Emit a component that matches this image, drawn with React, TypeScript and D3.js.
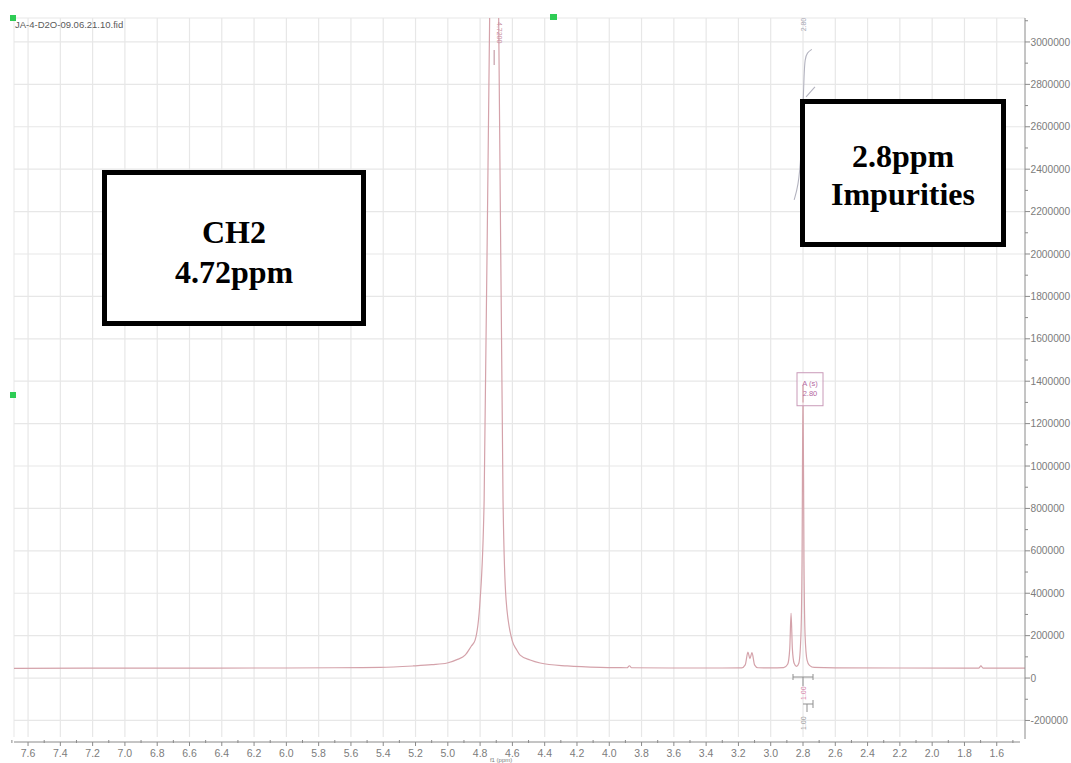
import React from "react";
import * as d3 from "d3";

const W = 1071;
const H = 763;

// ---------- data ----------
const xTickValues = [7.6, 7.4, 7.2, 7.0, 6.8, 6.6, 6.4, 6.2, 6.0, 5.8, 5.6, 5.4, 5.2, 5.0, 4.8, 4.6, 4.4, 4.2, 4.0, 3.8, 3.6, 3.4, 3.2, 3.0, 2.8, 2.6, 2.4, 2.2, 2.0, 1.8, 1.6];
const xMinorValues = [7.7, 7.5, 7.3, 7.1, 6.9, 6.7, 6.5, 6.3, 6.1, 5.9, 5.7, 5.5, 5.3, 5.1, 4.9, 4.7, 4.5, 4.3, 4.1, 3.9, 3.7, 3.5, 3.3, 3.1, 2.9, 2.7, 2.5, 2.3, 2.1, 1.9, 1.7, 1.5];
const yTickValues = [-200000, 0, 200000, 400000, 600000, 800000, 1000000, 1200000, 1400000, 1600000, 1800000, 2000000, 2200000, 2400000, 2600000, 2800000, 3000000];
const yMinorValues = [-100000, 100000, 300000, 500000, 700000, 900000, 1100000, 1300000, 1500000, 1700000, 1900000, 2100000, 2300000, 2500000, 2700000, 2900000, 3100000];

// spectrum (ppm, intensity)
const specPpm = [
  7.69, 7.2, 6.6, 6.0, 5.7, 5.42, 5.215, 5.1, 5.004, 4.94, 4.893, 4.855, 4.831, 4.8, 4.775, 4.741, 4.713, 4.685, 4.658, 4.639, 4.602, 4.575, 4.552, 4.49, 4.428, 4.261, 4.057, 3.95, 3.89, 3.875, 3.862, 3.6, 3.3, 3.18, 3.158, 3.141, 3.129, 3.116, 3.1, 3.08, 3.0, 2.92, 2.895, 2.882, 2.874, 2.866, 2.855, 2.84, 2.826, 2.813, 2.806, 2.8, 2.794, 2.787, 2.775, 2.76, 2.73, 2.6, 2.2, 1.8, 1.712, 1.698, 1.685, 1.42,
];
const specInt = [
  46000, 46500, 47000, 47500, 48500, 50000, 57000, 63000, 71000, 88000, 108000, 150000, 179000, 368000, 840000, 3110000, 4200000, 3110000, 840000, 368000, 179000, 135000, 108000, 85000, 71000, 57000, 50000, 49000, 48500, 58000, 48500, 47500, 47500, 48000, 62000, 122000, 92000, 120000, 62000, 48500, 48000, 49000, 65000, 140000, 305000, 140000, 70000, 55000, 70000, 200000, 550000, 1380000, 550000, 200000, 85000, 60000, 50000, 48000, 47500, 47000, 47000, 57000, 47000, 46500,
];

// integral trace over the 2.8 ppm region
const integPpm = [2.855, 2.83, 2.812, 2.8, 2.793, 2.788, 2.775, 2.745];
const integVal = [2255000, 2320000, 2450000, 2700000, 2850000, 2920000, 2950000, 2965000];
const integPpm2 = [2.781, 2.726];
const integVal2 = [2741000, 2788000];

// ---------- layout ----------
const plotLeft = 14;
const plotRight = 1025;
const plotTop = 18;
const plotBottom = 737;
const xAxisY = 742;

const x = d3.scaleLinear().domain([7.687, 1.425]).range([plotLeft, plotRight]);
const y = d3.scaleLinear().domain([-278000, 3113000]).range([plotBottom, plotTop]);

const spectrum = specPpm.map((p, i) => ({ p, v: specInt[i] }));
const integ = integPpm.map((p, i) => ({ p, v: integVal[i] }));
const integ2 = integPpm2.map((p, i) => ({ p, v: integVal2[i] }));

const line = d3
  .line<{ p: number; v: number }>()
  .x((d) => x(d.p))
  .y((d) => y(d.v))
  .curve(d3.curveMonotoneX);

const lineSmooth = d3
  .line<{ p: number; v: number }>()
  .x((d) => x(d.p))
  .y((d) => y(d.v))
  .curve(d3.curveBasis);

const sans = "'Liberation Sans', Arial, Helvetica, sans-serif";
const serif = "'Liberation Serif', 'Times New Roman', serif";

export default function App() {
  const gridColor = "#e7e7e7";
  const axisColor = "#8a8a8a";
  const labelColor = "#7c7c7c";
  const specColor = "#d4a2aa";
  const pk = x(2.8);
  const mainPk = x(4.713);
  return (
    <div style={{ position: "absolute", left: 0, top: 0, width: W, height: H, overflow: "hidden", background: "#fff" }}>
      <svg width={W} height={H} style={{ display: "block" }}>
        <defs>
          <clipPath id="plotclip">
            <rect x={plotLeft} y={plotTop} width={plotRight - plotLeft} height={plotBottom - plotTop} />
          </clipPath>
        </defs>
        <rect x={0} y={0} width={W} height={H} fill="#fff" />

        {/* grid */}
        <g>
          <line x1={plotLeft} x2={plotLeft} y1={plotTop} y2={plotBottom} stroke={gridColor} />
          <line x1={plotLeft} x2={plotRight} y1={plotTop} y2={plotTop} stroke={gridColor} />
          {xTickValues.map((t) => (
            <line key={"gx" + t} x1={x(t)} x2={x(t)} y1={plotTop} y2={plotBottom} stroke={gridColor} strokeWidth={1.2} />
          ))}
          {yTickValues.map((t) => (
            <line key={"gy" + t} x1={plotLeft} x2={plotRight} y1={y(t)} y2={y(t)} stroke={gridColor} strokeWidth={1.2} />
          ))}
        </g>

        {/* spectrum */}
        <g clipPath="url(#plotclip)">
          <path d={line(spectrum) || ""} fill="none" stroke={specColor} strokeWidth={1.2} />
          <path d={lineSmooth(integ) || ""} fill="none" stroke="#b3b3bf" strokeWidth={1.1} />
          <path d={lineSmooth(integ2) || ""} fill="none" stroke="#b3b3bf" strokeWidth={1.1} />
        </g>

        {/* peak labels */}
        <text
          transform={`translate(${mainPk + 2.5},${plotTop + 4}) rotate(90)`}
          fontFamily={sans}
          fontSize={7}
          fill="#c98fa0"
        >
          4.7200
        </text>
        <line x1={mainPk} x2={mainPk} y1={plotTop + 32} y2={plotTop + 47} stroke="#b98a95" strokeWidth={1} />
        <text
          transform={`translate(${pk + 2.5},${y(3050000)}) rotate(-90)`}
          fontFamily={sans}
          fontSize={7}
          fill="#a8a8b4"
        >
          2.80
        </text>

        {/* multiplet box */}
        <rect x={pk - 6} y={y(1440000)} width={26} height={33} fill="#fff" fillOpacity={0.6} stroke="#c99ab8" strokeWidth={1} />
        <line x1={pk} x2={pk} y1={y(1380000)} y2={y(1300000)} stroke={specColor} strokeWidth={1.2} />
        <text x={pk + 7} y={y(1440000) + 13} textAnchor="middle" fontFamily={sans} fontSize={7.5} fill="#b468a0">
          A (s)
        </text>
        <text x={pk + 7} y={y(1440000) + 23} textAnchor="middle" fontFamily={sans} fontSize={7.5} fill="#b468a0">
          2.80
        </text>

        {/* integration brackets */}
        <g stroke="#8f8f8f" strokeWidth={1} fill="none">
          <line x1={pk - 10} x2={pk + 10} y1={677} y2={677} />
          <line x1={pk - 10} x2={pk - 10} y1={674} y2={680} />
          <line x1={pk + 10} x2={pk + 10} y1={674} y2={680} />
          <line x1={pk} x2={pk} y1={677} y2={686} />
          <line x1={pk} x2={pk + 10} y1={704} y2={704} />
          <line x1={pk + 10} x2={pk + 10} y1={700} y2={708} />
          <line x1={pk + 4} x2={pk + 4} y1={704} y2={712} />
        </g>
        <text transform={`translate(${pk + 2.5},${700}) rotate(-90)`} fontFamily={sans} fontSize={7} fill="#d77fa8">
          1.00
        </text>
        <text transform={`translate(${pk + 2.5},${730}) rotate(-90)`} fontFamily={sans} fontSize={7} fill="#9a9a9a">
          1.00
        </text>

        {/* right y axis */}
        <g>
          <line x1={plotRight} x2={plotRight} y1={plotTop} y2={plotBottom + 2} stroke={axisColor} strokeWidth={1} />
          {yTickValues.map((t) => (
            <g key={"yt" + t}>
              <line x1={plotRight} x2={plotRight + 5} y1={y(t)} y2={y(t)} stroke={axisColor} />
              <text x={plotRight + 5.5} y={y(t)} dy="0.35em" fontFamily={sans} fontSize={10.2} fill={labelColor}>
                {String(t)}
              </text>
            </g>
          ))}
          {yMinorValues.map((t) => (
            <line key={"ym" + t} x1={plotRight} x2={plotRight + 3} y1={y(t)} y2={y(t)} stroke={axisColor} />
          ))}
        </g>

        {/* bottom x axis */}
        <g>
          <line x1={plotLeft} x2={plotRight - 5} y1={xAxisY} y2={xAxisY} stroke={axisColor} strokeWidth={1} />
          {xTickValues.map((t) => (
            <g key={"xt" + t}>
              <line x1={x(t)} x2={x(t)} y1={xAxisY} y2={xAxisY + 4} stroke={axisColor} />
              <text x={x(t)} y={xAxisY + 15} textAnchor="middle" fontFamily={sans} fontSize={10.5} fill={labelColor}>
                {t.toFixed(1)}
              </text>
            </g>
          ))}
          {xMinorValues.map((t) => (
            <line key={"xm" + t} x1={x(t)} x2={x(t)} y1={xAxisY - 2} y2={xAxisY + 1} stroke={axisColor} />
          ))}
          <text x={x(4.67)} y={H - 1} textAnchor="middle" fontFamily={sans} fontSize={6} fill={labelColor}>
            f1 (ppm)
          </text>
        </g>

        {/* file name */}
        <text x={15} y={28} fontFamily={sans} fontSize={9.5} fill="#5a5a5a">
          JA-4-D2O-09.06.21.10.fid
        </text>

        {/* green handles */}
        <rect x={10} y={15} width={6} height={6} fill="#2ecc55" />
        <rect x={550} y={14} width={7} height={6} fill="#2ecc55" />
        <rect x={10} y={392} width={6} height={6} fill="#2ecc55" />

        {/* annotation boxes */}
        <rect x={104.5} y={172.5} width={259} height={151} fill="#fff" stroke="#000" strokeWidth={5} />
        <text x={234} y={243} textAnchor="middle" fontFamily={serif} fontWeight="bold" fontSize={32} fill="#000">
          CH2
        </text>
        <text x={234} y={283} textAnchor="middle" fontFamily={serif} fontWeight="bold" fontSize={32} fill="#000">
          4.72ppm
        </text>

        <rect x={802.5} y={101.5} width={201} height={143} fill="#fff" stroke="#000" strokeWidth={5} />
        <text x={903} y={167} textAnchor="middle" fontFamily={serif} fontWeight="bold" fontSize={32} fill="#000">
          2.8ppm
        </text>
        <text x={903} y={205} textAnchor="middle" fontFamily={serif} fontWeight="bold" fontSize={32} fill="#000">
          Impurities
        </text>
      </svg>
    </div>
  );
}
